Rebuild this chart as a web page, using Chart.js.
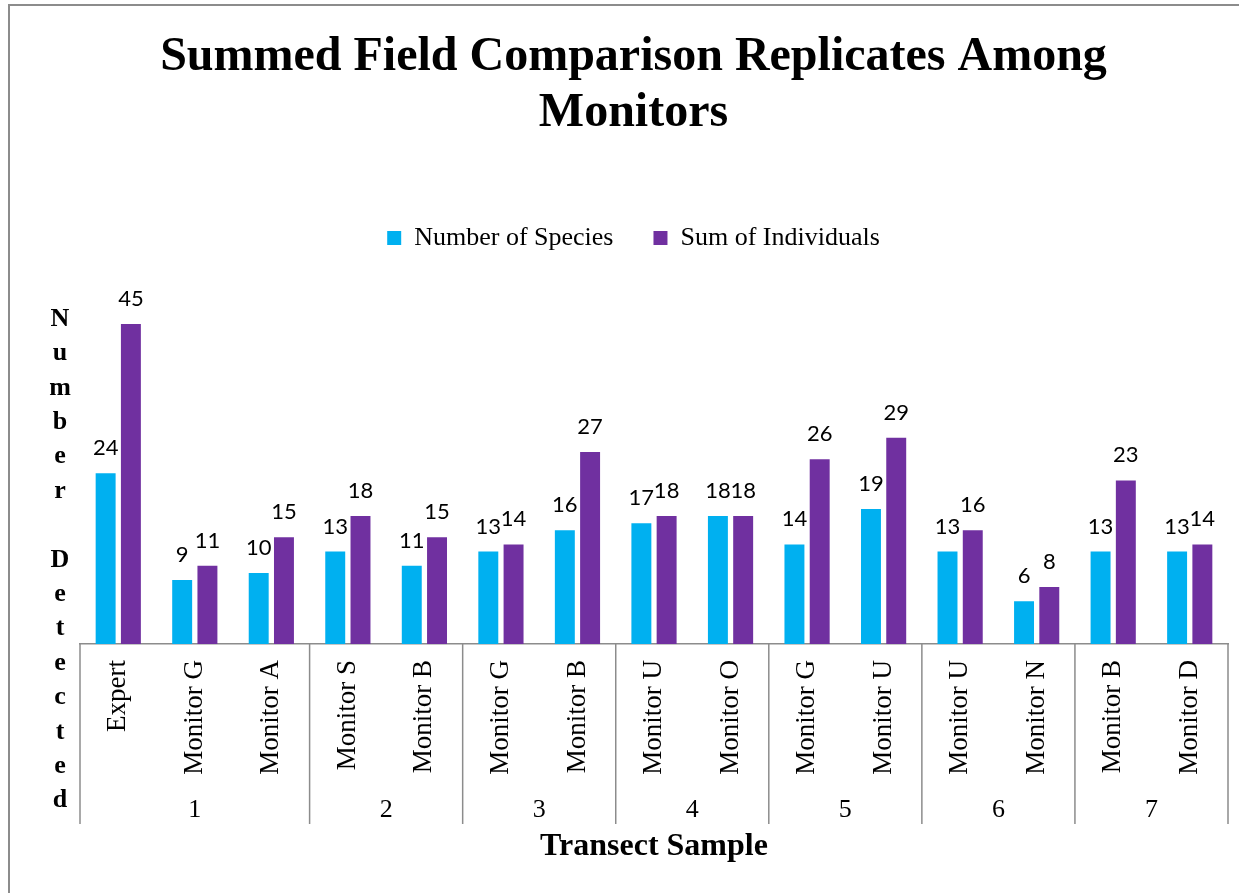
<!DOCTYPE html>
<html>
<head>
<meta charset="utf-8">
<title>Summed Field Comparison Replicates Among Monitors</title>
<script src="https://cdn.jsdelivr.net/npm/chart.js@4.4.0/dist/chart.umd.min.js"></script>
<style>
  html, body { margin: 0; padding: 0; background: #fff; overflow: hidden; }
  #frame { position: absolute; left: 8px; top: 4px; width: 1300px; height: 1000px;
           border-left: 2px solid #8c8c8c; border-top: 2px solid #8c8c8c; }
  #chart { position: absolute; left: 0; top: 0; }
</style>
</head>
<body>
<div id="frame"></div>
<canvas id="chart" width="1239" height="893"></canvas>
<script>
// monitor names along the x axis, grouped by transect
const monitors = ['Expert', 'Monitor G', 'Monitor A', 'Monitor S', 'Monitor B', 'Monitor G', 'Monitor B',
  'Monitor U', 'Monitor O', 'Monitor G', 'Monitor U', 'Monitor U', 'Monitor N', 'Monitor B', 'Monitor D'];
const transects = ['1', '2', '3', '4', '5', '6', '7'];
const transectSizes = [3, 2, 2, 2, 2, 2, 2];

const numberOfSpecies = [24, 9, 10, 13, 11, 13, 16, 17, 18, 14, 19, 13, 6, 13, 13];
const sumOfIndividuals = [45, 11, 15, 18, 15, 14, 27, 18, 18, 26, 29, 16, 8, 23, 14];

const yTitle = 'Number Detected';

const SERIF = '"Liberation Serif", "Times New Roman", serif';

// numbers above each bar
const valueLabels = {
  id: 'valueLabels',
  afterDatasetsDraw(chart) {
    const ctx = chart.ctx;
    ctx.save();
    ctx.font = '22px Lato, "Open Sans", sans-serif';
    ctx.fillStyle = '#000';
    ctx.textAlign = 'center';
    ctx.textBaseline = 'alphabetic';
    chart.data.datasets.forEach((ds, i) => {
      chart.getDatasetMeta(i).data.forEach((bar, j) => {
        ctx.fillText(ds.data[j], bar.x, bar.y - 18);
      });
    });
    ctx.restore();
  }
};

// second row of the x axis (transect numbers) and the group separators
const transectAxis = {
  id: 'transectAxis',
  afterDraw(chart) {
    const x = chart.scales.x;
    const ctx = chart.ctx;
    const w = x.width / monitors.length;
    const top = chart.chartArea.bottom;
    ctx.save();
    ctx.strokeStyle = '#8c8c8c';
    ctx.lineWidth = 1.5;
    ctx.font = '26px ' + SERIF;
    ctx.fillStyle = '#000';
    ctx.textAlign = 'center';
    ctx.textBaseline = 'middle';
    let start = 0;
    transects.forEach((t, g) => {
      const end = start + transectSizes[g];
      const x0 = x.getPixelForValue(start) - w / 2;
      const x1 = x.getPixelForValue(end - 1) + w / 2;
      ctx.beginPath();
      ctx.moveTo(x0, top);
      ctx.lineTo(x0, top + 180);
      if (g === transects.length - 1) {
        ctx.moveTo(x1, top);
        ctx.lineTo(x1, top + 180);
      }
      ctx.stroke();
      ctx.fillText(t, (x0 + x1) / 2, top + 166);
      start = end;
    });

    // stacked y axis title
    ctx.font = 'bold 26px ' + SERIF;
    yTitle.split('').forEach((ch, i) => {
      ctx.fillText(ch, 60, 319 + i * 34.4);
    });
    ctx.restore();
  }
};

// extra room under the legend
const legendGap = {
  id: 'legendGap',
  afterInit(chart) {
    const fit = chart.legend.fit;
    chart.legend.fit = function () {
      fit.bind(chart.legend)();
      this.height += 27.5;
    };
  }
};

Chart.defaults.color = '#000';

new Chart(document.getElementById('chart'), {
  type: 'bar',
  data: {
    labels: monitors,
    datasets: [
      {
        label: 'Number of Species',
        data: numberOfSpecies,
        backgroundColor: '#00B0F0',
        barPercentage: 0.79,
        categoryPercentage: 0.66,
      },
      {
        label: 'Sum of Individuals',
        data: sumOfIndividuals,
        backgroundColor: '#7030A0',
        barPercentage: 0.79,
        categoryPercentage: 0.66,
      },
    ],
  },
  options: {
    responsive: false,
    animation: false,
    devicePixelRatio: 1,
    layout: { padding: { left: 39, right: 11, top: 0, bottom: 27 } },
    plugins: {
      title: {
        display: true,
        text: ['Summed Field Comparison Replicates Among', 'Monitors'],
        font: { family: SERIF, size: 48, weight: 'bold', lineHeight: 56 / 48 },
        color: '#000',
        padding: { top: 30, bottom: 43 },
      },
      legend: {
        position: 'top',
        labels: {
          boxWidth: 14,
          boxHeight: 14,
          padding: 40,
          font: { family: SERIF, size: 26 },
          color: '#000',
        },
      },
      tooltip: { enabled: false },
    },
    scales: {
      x: {
        grid: { display: false, drawTicks: false },
        border: { display: true, color: '#8c8c8c', width: 1.5 },
        ticks: {
          minRotation: 90,
          maxRotation: 90,
          padding: 16,
          autoSkip: false,
          font: { family: SERIF, size: 27 },
          color: '#000',
        },
        title: {
          display: true,
          text: 'Transect Sample',
          font: { family: SERIF, size: 32, weight: 'bold' },
          color: '#000',
          padding: 0,
        },
        afterFit(scale) { scale.height = 222; },
      },
      y: {
        min: 0,
        max: 50,
        grid: { display: false, drawTicks: false },
        border: { display: false },
        ticks: { display: false },
        afterFit(scale) { scale.width = 41; },
      },
    },
  },
  plugins: [valueLabels, transectAxis, legendGap],
});
</script>
</body>
</html>
